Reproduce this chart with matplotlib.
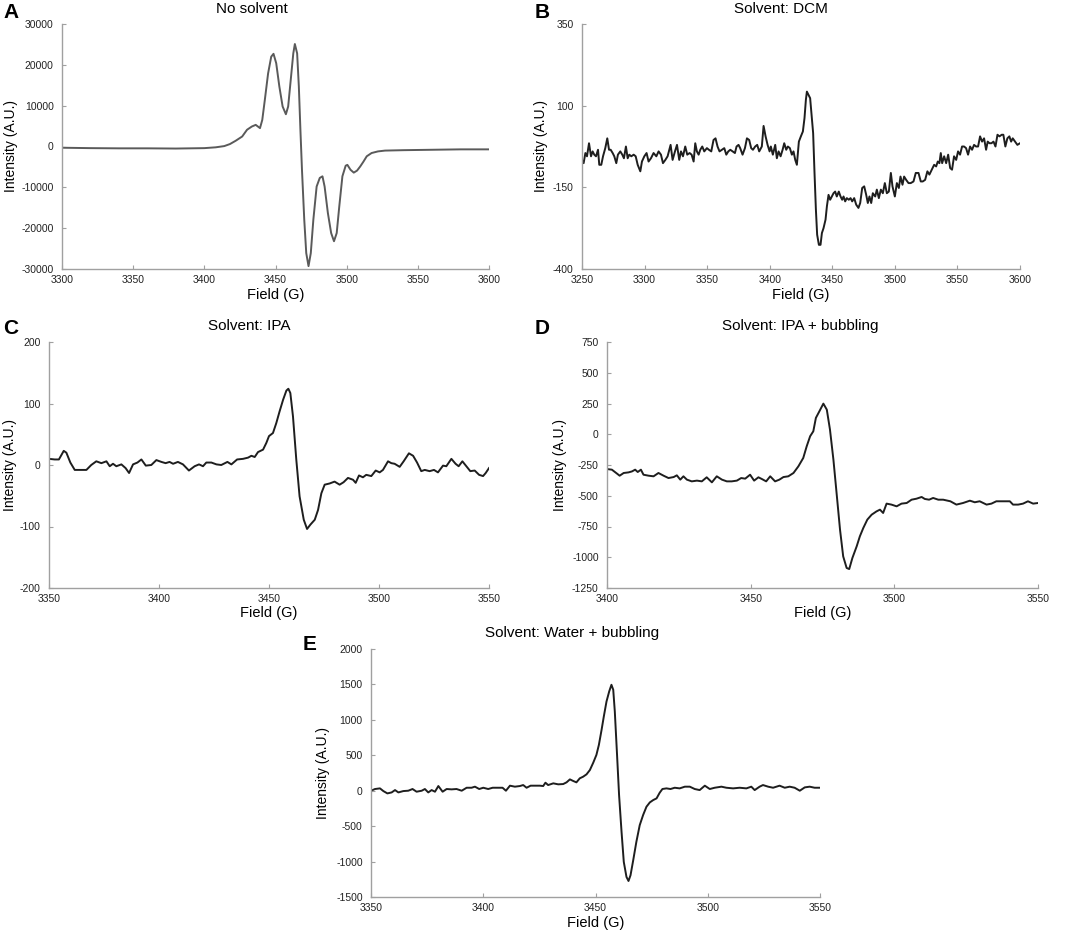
import matplotlib
matplotlib.use("Agg")
import matplotlib.pyplot as plt
import numpy as np

plt.rcParams['font.family'] = ['Liberation Sans', 'DejaVu Sans']
plt.rcParams['axes.unicode_minus'] = False

# A - no solvent
a_field = [3300, 3320, 3340, 3360, 3380, 3400, 3408, 3414, 3418, 3422, 3426.6, 3430, 3433.4,
           3436.1, 3439.1, 3440.7, 3442.5, 3444.8, 3447.0, 3448.6, 3450.5, 3452.7, 3455, 3457.3,
           3458.9, 3460.7, 3462.5, 3463.6, 3465.2, 3466.4, 3467.5, 3468.6, 3470.2, 3471.6, 3473.2,
           3474.8, 3476.6, 3478.9, 3481.1, 3483, 3484.5, 3486.8, 3489.1, 3491.1, 3493, 3494.8,
           3497, 3499.3, 3500.5, 3502.7, 3505, 3507.3, 3509.5, 3511.8, 3514.1, 3517.5, 3522,
           3527, 3540, 3560, 3580, 3600]
a_int = [-300, -400, -450, -450, -500, -400, -200, 100, 600, 1400, 2450, 4100, 4900,
         5300, 4500, 6500, 11400, 17900, 22000, 22700, 20400, 14700, 9800, 7900,
         9800, 16300, 22800, 25100, 22800, 14700, 4100, -5700, -17900, -26100, -29300,
         -26100, -17900, -9800, -7700, -7300, -9800, -16300, -21200, -23200, -21200, -14700,
         -7300, -4700, -4500, -5700, -6400, -5900, -4900, -3700, -2400, -1600, -1200,
         -1000, -900, -800, -700, -700]

# B - DCM
b_field = [3250.0, 3251.3, 3252.7, 3254.0, 3255.6, 3257.2, 3258.5, 3259.8, 3261.2, 3262.8,
           3263.8, 3265.4, 3266.8, 3268.6, 3270.2, 3271.6, 3272.9, 3274.5, 3275.8, 3277.4,
           3278.7, 3280.6, 3282.2, 3283.5, 3285.1, 3286.5, 3287.8, 3289.4, 3291.3, 3292.9,
           3294.5, 3296.6, 3297.9, 3299.8, 3301.6, 3303.2, 3305.1, 3307.2, 3309.4, 3311.2,
           3313.1, 3314.7, 3316.6, 3318.4, 3320.8, 3322.4, 3324.3, 3325.9, 3327.7, 3329.1,
           3330.7, 3332.5, 3334.1, 3336.0, 3337.6, 3339.2, 3340.5, 3341.8, 3343.2, 3344.5,
           3346.1, 3347.7, 3349.8, 3351.4, 3353.3, 3355.1, 3356.7, 3358.3, 3359.9, 3361.8,
           3363.7, 3365.3, 3366.9, 3368.5, 3370.3, 3372.2, 3373.5, 3375.1, 3376.4, 3378.3,
           3380.2, 3381.8, 3383.6, 3385.2, 3386.6, 3388.4, 3390.0, 3391.6, 3393.7, 3395.1,
           3396.7, 3398.3, 3399.9, 3400.9, 3402.5, 3404.4, 3405.7, 3407.1, 3408.7, 3410.3,
           3411.6, 3413.2, 3414.5, 3416.1, 3417.7, 3419.0, 3420.4, 3421.7, 3423.3, 3424.9,
           3426.5, 3427.8, 3428.9, 3429.7, 3431.0, 3432.3, 3433.7, 3434.7, 3435.8, 3436.9,
           3437.9, 3439.3, 3440.6, 3441.7, 3443.0, 3444.6, 3445.7, 3447.0, 3448.3, 3449.7,
           3451.0, 3452.3, 3453.6, 3455.2, 3456.6, 3457.9, 3459.0, 3460.3, 3461.6, 3463.2,
           3464.6, 3465.9, 3467.5, 3469.1, 3470.9, 3472.3, 3473.9, 3475.5, 3477.1, 3478.4,
           3479.7, 3481.1, 3482.4, 3484.3, 3485.6, 3487.2, 3488.8, 3490.4, 3492.0, 3493.6,
           3495.2, 3496.8, 3498.1, 3500.0, 3501.6, 3503.2, 3504.5, 3506.1, 3507.4, 3509.0,
           3510.9, 3512.7, 3514.9, 3516.7, 3518.9, 3520.7, 3522.3, 3524.2, 3526.0, 3527.6,
           3529.5, 3531.4, 3533.0, 3534.3, 3535.6, 3536.7, 3537.8, 3539.4, 3541.0, 3542.6,
           3544.2, 3545.7, 3547.3, 3549.0, 3550.5, 3552.1, 3553.7, 3555.3, 3556.9, 3558.5,
           3560.1, 3561.7, 3563.3, 3564.9, 3566.5, 3568.1, 3569.7, 3571.3, 3572.9, 3574.2,
           3575.6, 3577.2, 3578.8, 3580.4, 3582.0, 3583.6, 3585.4, 3586.7, 3588.3, 3589.9,
           3591.5, 3592.9, 3594.2, 3596.1, 3597.9, 3600.0]
b_int = [-66, -76, -45, -55, -15, -55, -40, -50, -55, -35,
         -81, -81, -55, -30, 0, -35, -35, -45, -55, -76,
         -50, -40, -50, -61, -25, -61, -50, -55, -50, -55,
         -81, -101, -71, -55, -45, -71, -61, -45, -55, -40,
         -50, -76, -66, -55, -20, -66, -40, -20, -66, -40,
         -55, -25, -50, -45, -50, -71, -15, -40, -50, -35,
         -25, -40, -30, -35, -40, -5, 0, -25, -40, -35,
         -30, -50, -40, -35, -40, -45, -25, -20, -30, -50,
         -30, 0, -5, -30, -35, -25, -20, -40, -25, 38,
         6, -20, -40, -25, -50, -20, -61, -40, -55, -35,
         -15, -35, -25, -30, -50, -40, -66, -81, -10, 6,
         21, 62, 118, 143, 133, 123, 62, 16, -106, -218,
         -295, -326, -326, -290, -275, -249, -208, -173, -188, -178,
         -168, -163, -178, -163, -178, -188, -178, -193, -183, -188,
         -183, -193, -183, -203, -213, -198, -152, -147, -173, -198,
         -178, -198, -168, -178, -157, -183, -157, -168, -137, -168,
         -163, -106, -147, -178, -137, -152, -117, -142, -117, -127,
         -137, -137, -132, -106, -106, -132, -132, -127, -101, -111,
         -96, -81, -86, -71, -76, -45, -76, -55, -76, -50,
         -91, -96, -55, -66, -40, -50, -25, -25, -30, -50,
         -25, -35, -20, -25, -25, 6, -10, 0, -35, -10,
         -15, -15, -10, -25, 11, 6, 11, 11, -25, 0,
         6, -10, 0, -10, -20, -15]

# C - IPA
c_field = [3350, 3352.6, 3354.5, 3356.7, 3357.9, 3359.7, 3361.7, 3363.9, 3367, 3369.2,
           3371.5, 3373.8, 3376.1, 3377.6, 3379.1, 3380.6, 3382.9, 3384.8, 3386.4, 3388.2,
           3390.2, 3392, 3394, 3396.5, 3398.8, 3401.1, 3403, 3404.8, 3406.4, 3408.6,
           3410.9, 3413.6, 3416.2, 3418.2, 3420, 3421.5, 3423.8, 3426.1, 3428.3, 3431.1,
           3432.9, 3435.5, 3438.2, 3440.5, 3442, 3443.5, 3445, 3447.3, 3448.8, 3450,
           3451.8, 3453.3, 3454.8, 3456.4, 3457.9, 3458.8, 3459.7, 3460.9, 3462.4, 3463.9,
           3465.8, 3467.3, 3468.8, 3470.8, 3472.3, 3473.8, 3475.3, 3477.6, 3479.8, 3482.1,
           3483.9, 3485.9, 3488.2, 3489.4, 3490.9, 3492.7, 3494.2, 3496.5, 3498.5, 3500.3,
           3501.8, 3504.1, 3505.6, 3507.1, 3509.4, 3511.2, 3513.6, 3515.5, 3517.3, 3519.2,
           3520.8, 3523, 3525, 3526.8, 3529.1, 3530.6, 3532.9, 3534.8, 3536.2, 3537.9,
           3539.7, 3541.5, 3543.5, 3545.5, 3547.3, 3548.5, 3550]
c_int = [10, 9, 9, 23, 20, 4, -8, -8, -8, 0,
         6, 3, 6, -2, 2, -2, 1, -5, -13, 1,
         4, 9, -1, 0, 8, 5, 3, 5, 2, 5,
         1, -9, -2, 1, -2, 4, 4, 1, 0, 5,
         1, 9, 10, 12, 15, 13, 21, 25, 36, 47,
         52, 68, 87, 106, 121, 124, 117, 79, 9, -51,
         -89, -104, -97, -89, -73, -46, -32, -30, -27, -32,
         -28, -21, -24, -29, -17, -20, -16, -18, -9, -12,
         -8, 6, 3, 2, -3, 6, 19, 15, 4, -10,
         -8, -10, -8, -12, -1, -2, 10, 2, -2, 6,
         -2, -10, -9, -16, -18, -13, -5]

# D - IPA + bubbling
d_field = [3400, 3401.7, 3403.2, 3404.4, 3405.8, 3407.5, 3408.7, 3409.8, 3410.7, 3411.8,
           3412.7, 3414.5, 3416.2, 3417.9, 3419.7, 3421.4, 3423.2, 3424.3, 3425.5, 3426.6,
           3427.8, 3429.5, 3431.3, 3433, 3434.7, 3436.5, 3438.2, 3440, 3441.7, 3443.4,
           3445.2, 3446.7, 3448.1, 3449.8, 3451.2, 3452.7, 3453.9, 3455.4, 3456.8, 3458.5,
           3460, 3461.4, 3463.1, 3464.9, 3466.6, 3468.3, 3469.5, 3470.7, 3471.8, 3472.7,
           3473.9, 3475.3, 3476.5, 3477.6, 3478.8, 3479.9, 3481.1, 3482.2, 3483.4, 3484.3,
           3485.4, 3486.9, 3488, 3489.2, 3490.6, 3492.1, 3493.8, 3495, 3496.1, 3497.3,
           3499, 3500.8, 3502.5, 3504.3, 3506, 3507.7, 3509.5, 3510.6, 3512.1, 3513.5,
           3515.3, 3517, 3519.5, 3521.6, 3523.9, 3526.3, 3528, 3529.7, 3532.1, 3533.8,
           3535.5, 3537.8, 3540.2, 3541.3, 3543.1, 3544.8, 3546.5, 3548.3, 3550]
d_int = [-283, -288, -315, -337, -315, -310, -302, -288, -307, -288,
         -329, -337, -342, -315, -337, -356, -348, -334, -369, -342,
         -369, -383, -377, -383, -350, -391, -342, -369, -383, -383,
         -377, -356, -361, -329, -377, -350, -364, -383, -342, -383,
         -369, -348, -342, -315, -261, -193, -98, -16, 24, 133,
         186, 249, 200, 38, -207, -478, -776, -993, -1087, -1096,
         -1006, -911, -830, -762, -694, -654, -627, -613, -640, -564,
         -572, -586, -564, -559, -532, -524, -510, -526, -532, -518,
         -532, -532, -545, -572, -559, -540, -553, -545, -572, -564,
         -545, -545, -545, -572, -572, -564, -545, -564, -559]

# E - water + bubbling
e_field = [3350, 3351.8, 3354, 3355.5, 3357.3, 3359.2, 3360.7, 3362.2, 3364.4, 3366.6,
           3368.5, 3370.3, 3372.6, 3374, 3375.5, 3377, 3378.5, 3380, 3381.9, 3383.7,
           3385.9, 3388.1, 3390.4, 3392.6, 3394.8, 3396.3, 3398.2, 3400, 3402.2, 3404.2,
           3406.7, 3408.6, 3410.1, 3411.9, 3414.1, 3416.3, 3417.8, 3419.3, 3421.1, 3423,
           3425.2, 3426.7, 3427.7, 3428.9, 3431.2, 3433.4, 3435.6, 3437.1, 3438.6, 3440.1,
           3441.5, 3443, 3444.5, 3446, 3447.5, 3449, 3450.4, 3451.5, 3452.7, 3453.7,
           3454.9, 3456.1, 3457.1, 3457.9, 3458.6, 3459.6, 3460.5, 3461.6, 3462.6, 3463.8,
           3464.7, 3465.6, 3466.8, 3468.2, 3469.7, 3471.2, 3472.7, 3474.2, 3475.7, 3477.2,
           3478.6, 3479.8, 3481.6, 3483.4, 3485.3, 3487.5, 3489.8, 3492, 3494.2, 3496.4,
           3498.7, 3500.9, 3503.1, 3506.1, 3508.3, 3511.3, 3514.2, 3517.2, 3519.4, 3520.9,
           3523.1, 3524.6, 3526.9, 3529.1, 3532, 3534.3, 3536.5, 3538.7, 3541, 3543.2,
           3545.4, 3547.6, 3549.9]
e_int = [0, 24, 33, -5, -38, -24, 9, -24, -5, 0,
         24, -14, 0, 24, -24, 9, -14, 66, -14, 24,
         19, 24, 0, 42, 42, 57, 24, 42, 24, 42,
         42, 42, 0, 71, 57, 66, 80, 42, 71, 71,
         71, 66, 113, 80, 104, 90, 94, 118, 160, 137,
         118, 175, 198, 231, 292, 396, 505, 646, 858, 1047,
         1259, 1401, 1495, 1425, 1118, 505, -61, -580, -1005, -1217,
         -1274, -1193, -981, -722, -486, -344, -226, -165, -132, -108,
         -28, 24, 33, 24, 42, 33, 57, 57, 24, 9,
         71, 24, 42, 57, 42, 33, 42, 33, 57, 9,
         57, 80, 57, 42, 71, 42, 57, 42, 0, 47,
         57, 42, 42]

W, H = 1072, 931
fig = plt.figure(figsize=(W / 100, H / 100), dpi=100)

# letter, title, x, y, colour, xticks, yticks, axes box in px (l, t, r, b),
# title centre x/y, letter x/y, ylabel x, xlabel y
panels = [
    ("A", "No solvent", a_field, a_int, "#5a5a5a",
     np.arange(3300, 3601, 50), np.arange(-30000, 30001, 10000),
     (62, 24, 489, 269), 252, 9, 3, 12, 11, 295),
    ("B", "Solvent: DCM", b_field, b_int, "#1e1e1e",
     np.arange(3250, 3601, 50), np.arange(-400, 351, 250),
     (582, 24, 1020, 269), 781, 9, 535, 12, 541, 295),
    ("C", "Solvent: IPA", c_field, c_int, "#1e1e1e",
     np.arange(3350, 3551, 50), np.arange(-200, 201, 100),
     (49, 342, 489, 588), 249, 326, 3, 329, 10, 613),
    ("D", "Solvent: IPA + bubbling", d_field, d_int, "#1e1e1e",
     np.arange(3400, 3551, 50), np.arange(-1250, 751, 250),
     (607, 342, 1038, 588), 800, 326, 535, 329, 560, 613),
    ("E", "Solvent: Water + bubbling", e_field, e_int, "#1e1e1e",
     np.arange(3350, 3551, 50), np.arange(-1500, 2001, 500),
     (371, 649, 820, 897), 572, 633, 303, 644, 323, 923),
]

for (letter, title, xs, ys, col, xt, yt, box, tx, ty, lx, ly, ylx, xly) in panels:
    l, t, r, b = box
    ax = fig.add_axes([l / W, 1 - b / H, (r - l) / W, (b - t) / H])
    ax.plot(xs, ys, color=col, linewidth=1.4)
    ax.set_xlim(xt[0], xt[-1])
    ax.set_ylim(yt[0], yt[-1])
    ax.set_xticks(xt)
    ax.set_yticks(yt)
    for s in ["top", "right"]:
        ax.spines[s].set_visible(False)
    for s in ["left", "bottom"]:
        ax.spines[s].set_color("#a0a0a0")
        ax.spines[s].set_linewidth(1.0)
    ax.tick_params(direction="in", length=3, width=0.8, color="#a0a0a0",
                   labelsize=7.5, labelcolor="#222222")
    ax.tick_params(axis="y", pad=6)
    ax.tick_params(axis="x", pad=4)
    ax.set_xlabel("Field (G)", fontsize=10.5, va="center")
    ax.set_ylabel("Intensity (A.U.)", fontsize=10, va="center")
    ax.xaxis.set_label_coords(0.5, -(xly - b) / (b - t))
    ax.yaxis.set_label_coords((ylx - l) / (r - l), 0.5)
    fig.text(tx / W, 1 - ty / H, title, ha="center", va="center", fontsize=11)
    fig.text(lx / W, 1 - ly / H, letter, ha="left", va="center", fontsize=15,
             fontweight="bold")

fig.savefig("out.png", dpi=100)
